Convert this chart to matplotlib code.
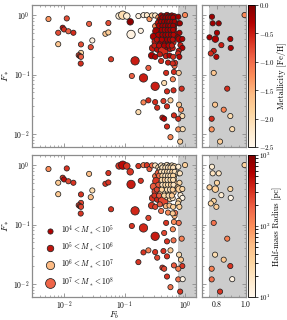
#!/usr/bin/env python
"""Baryon fraction vs stellar fraction, coloured by metallicity and half-mass radius."""

import matplotlib

matplotlib.use("Agg")

import matplotlib.pyplot as plt
import numpy as np
from matplotlib.colors import LogNorm, Normalize
from matplotlib.ticker import LogLocator, MultipleLocator, NullFormatter

plt.rcParams["font.family"] = "serif"
plt.rcParams["font.serif"] = ["cmr10", "DejaVu Serif"]
plt.rcParams["mathtext.fontset"] = "cm"
plt.rcParams["axes.formatter.use_mathtext"] = True

# --- data ------------------------------------------------------------------
# scattered systems, then the dense cluster, then the F_b > 0.7 systems
fb = [
    0.0056, 0.0081, 0.0112, 0.0096, 0.0101, 0.0119, 0.0144, 0.0081, 0.0261, 0.0295,
    0.0192, 0.0192, 0.0176, 0.0185, 0.0192, 0.0278, 0.0190, 0.0542, 0.0484, 0.0542,
    0.060, 0.0813, 0.0935, 0.109, 0.124, 0.128, 0.169, 0.185, 0.149, 0.132,
    0.205, 0.169, 0.205, 0.247, 0.247, 0.205, 0.233, 0.257, 0.319, 0.319,
    0.449, 0.624, 0.484, 0.65, 0.665, 0.68, 0.50, 0.64, 0.319, 0.437,
    0.57, 0.345, 0.50, 0.42, 0.449, 0.65, 0.50, 0.57,
    # dense cluster
    0.284, 0.32, 0.36, 0.40, 0.45, 0.50, 0.55, 0.60, 0.66,
    0.38, 0.43, 0.48, 0.53, 0.58, 0.64,
    0.36, 0.41, 0.46, 0.51, 0.56, 0.62, 0.67,
    0.39, 0.44, 0.49, 0.54, 0.60, 0.66,
    0.34, 0.40, 0.45, 0.50, 0.56, 0.62, 0.68,
    0.30, 0.37, 0.43, 0.48, 0.53, 0.59, 0.65,
    0.32, 0.39, 0.46, 0.52, 0.58, 0.64,
    0.29, 0.35, 0.432, 0.50, 0.56, 0.62,
    0.28, 0.32, 0.38, 0.48, 0.55, 0.63,
    0.40, 0.52, 0.62,
    0.42, 0.47, 0.52, 0.57, 0.63,
    0.40, 0.45, 0.50, 0.55, 0.61, 0.67,
    0.37, 0.42, 0.47, 0.52, 0.57, 0.63,
    0.41, 0.46, 0.51, 0.57, 0.63,
    0.36, 0.42, 0.47, 0.52, 0.58, 0.64,
    0.34, 0.41, 0.50, 0.56, 0.62,
    0.31, 0.37, 0.45, 0.53, 0.60,
    # F_b > 0.7
    0.768, 0.773, 0.814, 0.802, 0.751, 0.791, 0.832, 0.893, 0.896, 0.78,
    0.76, 0.798, 0.78, 0.872, 0.789, 0.848, 0.893, 0.766, 0.766, 0.906,
    0.823, 0.99,
]
fstar = [
    0.87, 0.51, 0.89, 0.62, 0.58, 0.54, 0.51, 0.327, 0.72, 0.378,
    0.324, 0.233, 0.213, 0.205, 0.200, 0.291, 0.154, 0.743, 0.49, 0.516,
    0.182, 0.98, 1.01, 0.977, 0.78, 0.478, 0.977, 0.55, 0.171, 0.095,
    0.088, 0.0233, 0.034, 0.0368, 0.130, 1.01, 1.01, 0.869, 0.661, 0.0636,
    0.0723, 0.0835, 0.107, 0.111, 0.140, 0.158, 0.0522, 0.0543, 0.0344, 0.0358,
    0.0368, 0.0277, 0.0291, 0.0188, 0.018, 0.0205, 0.0133, 0.0088,
    # dense cluster
    1.0, 1.0, 0.93, 1.0, 0.97, 1.02, 0.98, 1.0, 0.97,
    0.85, 0.86, 0.84, 0.87, 0.83, 0.86,
    0.74, 0.72, 0.74, 0.71, 0.73, 0.72, 0.70,
    0.63, 0.61, 0.64, 0.60, 0.62, 0.60,
    0.54, 0.52, 0.50, 0.53, 0.51, 0.52, 0.50,
    0.44, 0.42, 0.43, 0.41, 0.44, 0.42, 0.43,
    0.36, 0.34, 0.35, 0.36, 0.34, 0.35,
    0.28, 0.27, 0.25, 0.29, 0.27, 0.28,
    0.21, 0.20, 0.22, 0.205, 0.21, 0.20,
    0.17, 0.16, 0.155,
    0.92, 0.92, 0.92, 0.92, 0.92,
    0.78, 0.78, 0.78, 0.78, 0.78, 0.78,
    0.67, 0.67, 0.67, 0.67, 0.67, 0.67,
    0.57, 0.57, 0.57, 0.57, 0.57,
    0.47, 0.47, 0.47, 0.47, 0.47, 0.47,
    0.39, 0.39, 0.39, 0.39, 0.39,
    0.31, 0.31, 0.31, 0.31, 0.31,
    # F_b > 0.7
    0.95, 0.735, 0.735, 0.509, 0.426, 0.398, 0.315, 0.40, 0.283, 0.252,
    0.228, 0.200, 0.107, 0.058, 0.0311, 0.0256, 0.020, 0.018, 0.0119, 0.012,
    0.0074, 1.015,
]
feh = [
    -1.3, -0.8, -0.8, -0.4, -0.6, -0.9, -0.6, -1.7, -0.9, -2.4,
    -0.8, -1.9, -0.7, -0.6, -0.9, -0.8, -0.6, -0.8, -1.7, -1.8,
    -0.7, -2.3, -2.0, -2.3, -0.1, -2.4, -2.4, -2.4, -0.5, -0.9,
    -0.5, -2.0, -1.2, -0.6, -0.9, -2.4, -2.2, -1.3, -1.2, -0.5,
    -2.0, -1.2, -0.6, -0.6, -1.0, -0.6, -0.6, -0.6, -0.6, -0.7,
    -1.8, -0.6, -0.6, -0.5, -0.3, -0.6, -0.6, -1.2,
    # dense cluster
    -2.0, -2.2, -1.3, -0.3, -0.2, -0.2, -0.15, -0.2, -0.25,
    -0.3, -0.2, -0.15, -0.3, -0.2, -0.25,
    -0.4, -0.2, -0.1, -0.25, -0.2, -0.3, -0.2,
    -0.3, -0.2, -0.15, -0.3, -0.2, -0.25,
    -0.2, -0.25, -0.2, -0.3, -0.2, -0.25, -0.3,
    -0.3, -0.35, -0.2, -0.25, -0.2, -0.3, -0.4,
    -0.5, -0.3, -0.25, -0.3, -0.2, -0.5,
    -0.5, -0.4, -0.6, -0.3, -0.4, -0.5,
    -0.3, -0.35, -0.5, -0.5, -0.3, -0.6,
    -0.6, -0.5, -0.6,
    -0.2, -0.15, -0.25, -0.2, -0.3,
    -0.25, -0.2, -0.1, -0.3, -0.2, -0.25,
    -0.3, -0.2, -0.25, -0.15, -0.3, -0.2,
    -0.2, -0.3, -0.2, -0.25, -0.3,
    -0.3, -0.25, -0.2, -0.3, -0.25, -0.35,
    -0.4, -0.3, -0.2, -0.3, -0.4,
    -0.5, -0.4, -0.3, -0.35, -0.5,
    # F_b > 0.7
    -0.2, -0.2, -0.2, -0.25, -0.25, -0.3, -0.5, -0.3, -0.3, -0.5,
    -0.6, -0.35, -1.7, -0.6, -1.7, -1.2, -2.0, -0.6, -1.3, -2.0,
    -1.8, -1.2,
]
rhalf = [
    100, 40, 300, 300, 500, 250, 300, 40, 50, 25,
    300, 250, 300, 300, 250, 50, 300, 300, 300, 300,
    300, 300, 500, 300, 300, 400, 300, 300, 350, 300,
    350, 300, 300, 120, 250, 130, 300, 200, 150, 400,
    250, 100, 300, 100, 60, 150, 300, 150, 300, 300,
    40, 250, 300, 300, 250, 200, 300, 150,
    # dense cluster
    150, 20, 25, 20, 25, 20, 18, 22, 30,
    20, 25, 30, 20, 18, 25,
    200, 30, 20, 22, 35, 25, 18,
    30, 20, 25, 40, 25, 30,
    300, 35, 18, 25, 30, 20, 40,
    200, 150, 30, 25, 20, 35, 25,
    250, 40, 20, 30, 25, 40,
    300, 350, 250, 25, 30, 20,
    300, 250, 200, 60, 50, 35,
    150, 100, 40,
    20, 25, 18, 30, 22,
    25, 20, 30, 18, 35, 22,
    150, 30, 20, 25, 22, 30,
    25, 35, 20, 30, 25,
    200, 20, 30, 25, 35, 20,
    250, 30, 25, 20, 35,
    300, 200, 30, 25, 40,
    # F_b > 0.7
    15, 20, 20, 30, 35, 35, 15, 30, 11, 30,
    30, 35, 150, 120, 25, 40, 300, 120, 150, 12,
    300, 35,
]
mass_bin = [
    0, 0, 0, 0, 0, 0, 0, 0, 0, 0,
    0, 0, 0, 0, 0, 0, 0, 0, 0, 0,
    0, 1, 2, 1, 1, 2, 0, 0, 2, 0,
    2, 0, 0, 0, 0, 0, 0, 0, 0, 2,
    0, 0, 0, 0, 0, 0, 0, 0, 0, 0,
    0, 0, 0, 0, 0, 0, 0, 0,
    # dense cluster
    0, 0, 0, 0, 0, 0, 0, 0, 0,
    0, 1, 0, 0, 0, 0,
    1, 0, 0, 0, 0, 0, 0,
    0, 0, 0, 0, 0, 0,
    2, 0, 0, 0, 0, 0, 0,
    1, 0, 0, 0, 0, 0, 0,
    1, 0, 0, 0, 0, 0,
    1, 1, 3, 0, 0, 0,
    1, 0, 0, 0, 0, 0,
    0, 0, 0,
    0, 0, 0, 0, 0,
    0, 0, 0, 0, 0, 0,
    0, 0, 0, 0, 0, 0,
    0, 0, 0, 0, 0,
    0, 0, 0, 0, 0, 0,
    0, 0, 0, 0, 0,
    0, 0, 0, 0, 0,
    # F_b > 0.7
    0, 0, 0, 0, 0, 1, 0, 0, 0, 0,
    0, 0, 0, 0, 0, 0, 0, 0, 0, 0,
    0, 0,
]
mass_labels = [
    r"$10^4 < M_* < 10^5$",
    r"$10^5 < M_* < 10^6$",
    r"$10^6 < M_* < 10^7$",
    r"$10^7 < M_* < 10^8$",
]

# --- styling ---------------------------------------------------------------
SIZES = np.array([14, 22, 36, 50])
LEGEND_COLORS = ["#b30000", "#c0150d", "#fdbb84", "#ef6548"]
SHADE = "#cccccc"
SPINE = "#8c8c8c"

fb = np.array(fb)
fstar = np.array(fstar)
feh = np.array(feh)
rhalf = np.array(rhalf)
sizes = SIZES[np.array(mass_bin)]

W, H = 287, 320
fig = plt.figure(figsize=(W / 100, H / 100), dpi=100)


def box(x0, y0, x1, y1):
    return [x0 / W, 1 - y1 / H, (x1 - x0) / W, (y1 - y0) / H]


ax_tl = fig.add_axes(box(32, 5, 196, 147))
ax_tr = fig.add_axes(box(202, 5, 246, 147))
cax_t = fig.add_axes(box(248, 5, 255, 147))
ax_bl = fig.add_axes(box(32, 155, 196, 297))
ax_br = fig.add_axes(box(202, 155, 246, 297))
cax_b = fig.add_axes(box(248, 155, 255, 297))

norm_feh = Normalize(-2.5, 0.0)
norm_r = LogNorm(10, 1000)
cmap = plt.get_cmap("OrRd")


def style(ax):
    ax.tick_params(which="both", direction="in", top=True, right=True,
                   color=SPINE, labelsize=5.5, pad=1.5)
    ax.tick_params(which="major", length=3, width=0.6)
    ax.tick_params(which="minor", length=1.6, width=0.5)
    for sp in ax.spines.values():
        sp.set_color(SPINE)
        sp.set_linewidth(0.9)


rows = [(ax_tl, ax_tr, cax_t, feh, norm_feh), (ax_bl, ax_br, cax_b, rhalf, norm_r)]
for ax_l, ax_r, cax, values, norm in rows:
    for ax in (ax_l, ax_r):
        ax.axvspan(0.75, 10, color=SHADE, lw=0, zorder=0)
        pts = ax.scatter(fb, fstar, c=values, s=sizes, cmap=cmap, norm=norm,
                         edgecolors="#222222", linewidths=0.55, zorder=3)
        ax.set_yscale("log")
        ax.set_ylim(6e-3, 1.5)
        style(ax)
    ax_l.set_xscale("log")
    ax_l.set_xlim(3e-3, 1.5)
    ax_l.xaxis.set_minor_locator(LogLocator(subs=np.arange(2, 10)))
    ax_l.set_ylabel(r"$F_*$", fontsize=7, labelpad=2)
    ax_r.set_xlim(0.7, 1.0)
    ax_r.xaxis.set_major_locator(MultipleLocator(0.2))
    ax_r.xaxis.set_minor_locator(MultipleLocator(0.05))
    ax_r.yaxis.set_major_formatter(NullFormatter())
    ax_r.yaxis.set_minor_formatter(NullFormatter())
    cb = fig.colorbar(pts, cax=cax)
    cb.ax.tick_params(labelsize=5, length=2, width=0.5, pad=1.2)
    cb.outline.set_linewidth(0.6)

cax_t.yaxis.set_major_locator(MultipleLocator(0.5))
cax_t.set_ylabel("Metallicity [Fe/H]", fontsize=6, labelpad=1)
cax_b.set_ylabel("Half-mass Radius [pc]", fontsize=6, labelpad=1)

for ax in (ax_tl, ax_tr):
    ax.tick_params(labelbottom=False)
ax_bl.set_xlabel(r"$F_b$", fontsize=6.5, labelpad=-2)

handles = [
    ax_bl.scatter([], [], s=s, c=c, edgecolors="#222222", linewidths=0.55)
    for s, c in zip(SIZES, LEGEND_COLORS)
]
ax_bl.legend(handles, mass_labels, loc="lower left", frameon=False,
             fontsize=5.5, handletextpad=0.4, labelspacing=0.55,
             borderaxespad=0.3, bbox_to_anchor=(0.03, 0.02))

fig.savefig("out.png", dpi=100)
